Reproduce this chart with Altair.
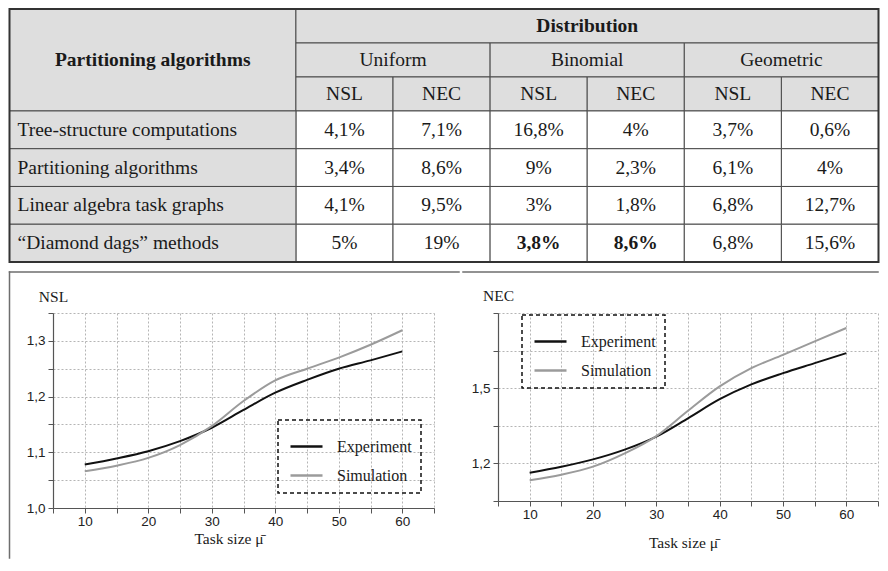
import altair as alt
import pandas as pd

# ---------------- table content ----------------
row_labels = [
    "Tree-structure computations",
    "Partitioning  algorithms",
    "Linear algebra task graphs",
    "\u201cDiamond dags\u201d methods",
]
distributions = ["Uniform", "Binomial", "Geometric"]
metrics = ["NSL", "NEC"]
uniform_nsl = ["4,1%", "3,4%", "4,1%", "5%"]
uniform_nec = ["7,1%", "8,6%", "9,5%", "19%"]
binomial_nsl = ["16,8%", "9%", "3%", "3,8%"]
binomial_nec = ["4%", "2,3%", "1,8%", "8,6%"]
geometric_nsl = ["3,7%", "6,1%", "6,8%", "6,8%"]
geometric_nec = ["0,6%", "4%", "12,7%", "15,6%"]
bold_cells = [(3, "Binomial", "NSL"), (3, "Binomial", "NEC")]
corner_title = "Partitioning algorithms"
group_title = "Distribution"

# ---------------- chart content ----------------
task_size = [10, 15, 20, 25, 30, 35, 40, 45, 50, 55, 60]
nsl_experiment = [1.078, 1.089, 1.102, 1.120, 1.144, 1.176, 1.207, 1.230, 1.250, 1.265, 1.281]
nsl_simulation = [1.066, 1.076, 1.090, 1.113, 1.147, 1.192, 1.229, 1.250, 1.270, 1.293, 1.319]
nec_experiment = [1.163, 1.187, 1.216, 1.255, 1.307, 1.380, 1.456, 1.515, 1.560, 1.600, 1.640]
nec_simulation = [1.133, 1.155, 1.187, 1.240, 1.309, 1.410, 1.507, 1.580, 1.633, 1.687, 1.740]
series_names = ["Experiment", "Simulation"]
x_ticks = [5, 10, 15, 20, 25, 30, 35, 40, 45, 50, 55, 60, 65]
nsl_ticks = [1.0, 1.05, 1.1, 1.15, 1.2, 1.25, 1.3, 1.35]
nsl_labeled = [1.0, 1.1, 1.2, 1.3]
nec_ticks = [1.05, 1.2, 1.35, 1.5, 1.65, 1.8]
nec_labeled = [1.2, 1.5]
x_title = "Task size \u03bc\u0304"

SERIF = "Liberation Serif"
SANS = "Liberation Sans"
GRAY = "#dedede"
LINE = "#4a4a4a"
TEXT = "#1a1a1a"
BOX = "#6e6e6e"

# ---------------- layout ----------------
TABLE_PX = 869        # full table width in pixels
PLOT_OFFSET = 43.5    # left plot starts this far right of the table's left edge
LABEL_SPAN = 2.95
HEADER_ROW = 0.9
DATA_ROW = 1.0
n_cols = len(distributions) * len(metrics)
TOTAL_W = LABEL_SPAN + n_cols
TOTAL_H = 3 * HEADER_ROW + len(row_labels) * DATA_ROW
PX_PER_UNIT = TABLE_PX / TOTAL_W
X_START = PLOT_OFFSET / PX_PER_UNIT

values_by = {
    "Uniform": {"NSL": uniform_nsl, "NEC": uniform_nec},
    "Binomial": {"NSL": binomial_nsl, "NEC": binomial_nec},
    "Geometric": {"NSL": geometric_nsl, "NEC": geometric_nec},
}

cells, texts, labels = [], [], []
cells.append(dict(x0=0, x1=LABEL_SPAN, y0=0, y1=3 * HEADER_ROW, fill=GRAY))
texts.append(dict(xc=LABEL_SPAN / 2, yc=1.5 * HEADER_ROW, text=corner_title, w="bold"))
cells.append(dict(x0=LABEL_SPAN, x1=TOTAL_W, y0=0, y1=HEADER_ROW, fill=GRAY))
texts.append(dict(xc=(LABEL_SPAN + TOTAL_W) / 2, yc=0.5 * HEADER_ROW, text=group_title, w="bold"))
for i, d in enumerate(distributions):
    dx0 = LABEL_SPAN + len(metrics) * i
    cells.append(dict(x0=dx0, x1=dx0 + len(metrics), y0=HEADER_ROW, y1=2 * HEADER_ROW, fill=GRAY))
    texts.append(dict(xc=dx0 + len(metrics) / 2, yc=1.5 * HEADER_ROW, text=d, w="normal"))
    for j, m in enumerate(metrics):
        cx0 = dx0 + j
        cells.append(dict(x0=cx0, x1=cx0 + 1, y0=2 * HEADER_ROW, y1=3 * HEADER_ROW, fill=GRAY))
        texts.append(dict(xc=cx0 + 0.5, yc=2.5 * HEADER_ROW, text=m, w="normal"))
        for r in range(len(row_labels)):
            ry0 = 3 * HEADER_ROW + r * DATA_ROW
            cells.append(dict(x0=cx0, x1=cx0 + 1, y0=ry0, y1=ry0 + DATA_ROW, fill="white"))
            texts.append(dict(xc=cx0 + 0.5, yc=ry0 + DATA_ROW / 2, text=values_by[d][m][r],
                              w="bold" if (r, d, m) in bold_cells else "normal"))
for r, lab in enumerate(row_labels):
    ry0 = 3 * HEADER_ROW + r * DATA_ROW
    cells.append(dict(x0=0, x1=LABEL_SPAN, y0=ry0, y1=ry0 + DATA_ROW, fill=GRAY))
    labels.append(dict(xc=0, yc=ry0 + DATA_ROW / 2, text=lab))

cells_df = pd.DataFrame(cells)
texts_df = pd.DataFrame(texts)
labels_df = pd.DataFrame(labels)
frame_df = pd.DataFrame([dict(x0=0, x1=TOTAL_W, y0=0, y1=TOTAL_H)])

xs = alt.Scale(domain=[X_START, TOTAL_W], nice=False, zero=False)
ys = alt.Scale(domain=[0, TOTAL_H], nice=False, zero=False, reverse=True)

rects = alt.Chart(cells_df).mark_rect(stroke=LINE, strokeWidth=1).encode(
    x=alt.X("x0:Q", scale=xs, axis=None), x2="x1:Q",
    y=alt.Y("y0:Q", scale=ys, axis=None), y2="y1:Q",
    fill=alt.Fill("fill:N", scale=None),
)
frame = alt.Chart(frame_df).mark_rect(filled=False, stroke="#333333", strokeWidth=2).encode(
    x=alt.X("x0:Q", scale=xs, axis=None), x2="x1:Q",
    y=alt.Y("y0:Q", scale=ys, axis=None), y2="y1:Q",
)
txt_common = dict(font=SERIF, fontSize=19.5, color=TEXT, baseline="middle")
txt_normal = alt.Chart(texts_df).transform_filter(alt.datum.w == "normal").mark_text(
    align="center", fontWeight="normal", **txt_common
).encode(x=alt.X("xc:Q", scale=xs, axis=None), y=alt.Y("yc:Q", scale=ys, axis=None), text="text:N")
txt_bold = alt.Chart(texts_df).transform_filter(alt.datum.w == "bold").mark_text(
    align="center", fontWeight="bold", **txt_common
).encode(x=alt.X("xc:Q", scale=xs, axis=None), y=alt.Y("yc:Q", scale=ys, axis=None), text="text:N")
txt_labels = alt.Chart(labels_df).mark_text(align="left", dx=8, fontWeight="normal", **txt_common).encode(
    x=alt.X("xc:Q", scale=xs, axis=None), y=alt.Y("yc:Q", scale=ys, axis=None), text="text:N"
)
table = alt.layer(rects, frame, txt_normal, txt_bold, txt_labels).properties(
    width=TABLE_PX - PLOT_OFFSET, height=253
)


# ---------------- line panels ----------------
def panel(y_title, exp, sim, y_domain, y_ticks, y_labeled, width, height,
          legend_x, legend_y, xtitle_x, xtitle_y, ytitle_y, box_top, box_left, box_right, left_edge):
    n = len(task_size)
    df = pd.DataFrame({
        "task": task_size * 2,
        "value": exp + sim,
        "series": [series_names[0]] * n + [series_names[1]] * n,
    })
    lab_list = "[" + ",".join(str(v) for v in y_labeled) + "]"
    axis_common = dict(
        domainColor="#555555", domainWidth=1.2, tickColor="#555555", tickSize=5,
        gridColor="#b5b5b5", gridDash=[2, 2], gridWidth=1,
        labelFont=SANS, labelFontSize=13.5, labelColor="#222222",
        titleFont=SERIF, titleFontSize=15.5, titleFontWeight="normal", titleColor=TEXT,
    )
    x_axis = alt.Axis(
        values=x_ticks,
        labelExpr="datum.value >= 10 && datum.value <= 60 && datum.value % 10 == 0 ? format(datum.value, 'd') : ''",
        labelPadding=1, title=x_title, titleX=xtitle_x, titleY=xtitle_y,
        titleAlign="center", titleBaseline="middle", labelFlush=False, **axis_common,
    )
    y_axis = alt.Axis(
        values=y_ticks,
        labelExpr=f"indexof({lab_list}, datum.value) >= 0 ? replace(format(datum.value, '.1f'), '.', ',') : ''",
        labelPadding=3, title=y_title, titleAngle=0, titleX=0, titleY=ytitle_y,
        titleAlign="center", titleBaseline="middle", labelFlush=False, **axis_common,
    )
    lines = alt.Chart(df).mark_line(interpolate="monotone", strokeWidth=2).encode(
        x=alt.X("task:Q", scale=alt.Scale(domain=[5, 65], nice=False, zero=False), axis=x_axis),
        y=alt.Y("value:Q", scale=alt.Scale(domain=y_domain, nice=False, zero=False), axis=y_axis),
        color=alt.Color(
            "series:N",
            scale=alt.Scale(domain=series_names, range=["#111111", "#9b9b9b"]),
            legend=alt.Legend(
                title=None, orient="none", legendX=legend_x, legendY=legend_y,
                symbolType="stroke", symbolSize=1024, symbolStrokeWidth=2.5,
                symbolOffset=2, labelOffset=13, rowPadding=3, padding=9,
                labelFont=SERIF, labelFontSize=16, labelColor=TEXT,
                strokeColor="#111111",
            ),
        ),
    )
    one = pd.DataFrame({"k": [0]})
    layers = [lines]
    layers.append(alt.Chart(one).mark_rule(color=BOX, strokeWidth=1.5, strokeCap="square").encode(
        x=alt.value(box_left), x2=alt.value(box_right), y=alt.value(box_top)))
    if left_edge:
        layers.append(alt.Chart(one).mark_rule(color=BOX, strokeWidth=1.5, strokeCap="square").encode(
            x=alt.value(box_left), y=alt.value(box_top), y2=alt.value(245)))
    return alt.layer(*layers).properties(width=width, height=height)


left = panel("NSL", nsl_experiment, nsl_simulation, [1.0, 1.35], nsl_ticks, nsl_labeled,
             381, 195, 225, 107, 175.5, 30, -17, -41, -PLOT_OFFSET, 406, True)
right = panel("NEC", nec_experiment, nec_simulation, [1.05, 1.8], nec_ticks, nec_labeled,
              380, 188, 24, 2, 185, 41, -18, -41, -35, 380, False)

bottom = alt.hconcat(left, right, spacing=0).resolve_scale(color="independent").resolve_legend(color="independent")

chart = alt.vconcat(
    table,
    bottom,
    spacing=7,
).properties(padding=0).configure_view(stroke=None).configure_legend(strokeDash=[4, 3], strokeWidth=1.5)

chart.save("out.html", embed_options={"renderer": "svg", "actions": False})
